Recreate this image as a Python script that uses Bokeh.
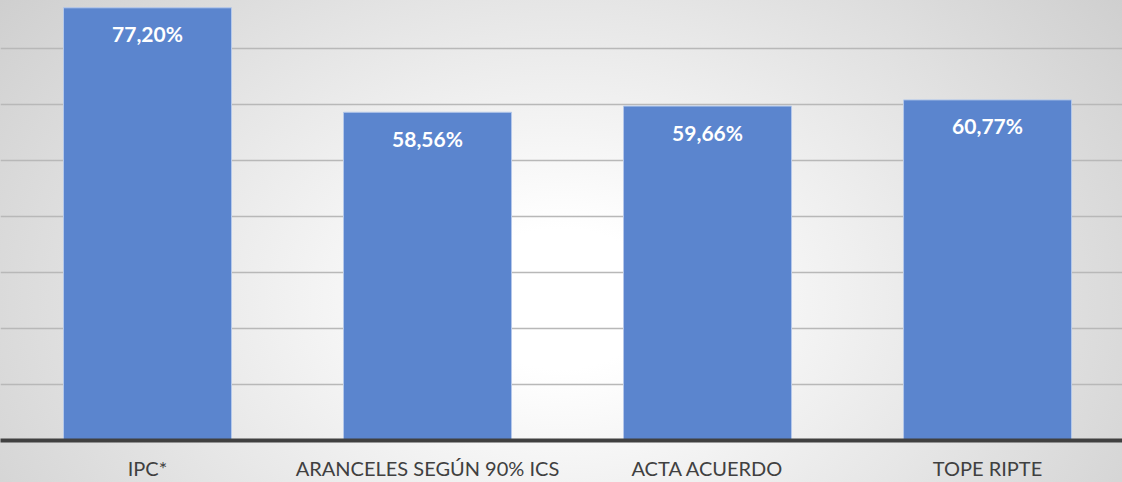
from bokeh.plotting import figure
from bokeh.models import Range1d, FixedTicker, ColumnDataSource
from bokeh.embed import file_html
from bokeh.resources import INLINE
from bokeh.core.properties import value

categories = ["IPC*", "ARANCELES SEGÚN 90% ICS", "ACTA ACUERDO", "TOPE RIPTE"]
values = [77.20, 58.56, 59.66, 60.77]
labels = ["77,20%", "58,56%", "59,66%", "60,77%"]
grid_ticks = [10, 20, 30, 40, 50, 60, 70]

xs = list(range(len(categories)))
src = ColumnDataSource(dict(x=xs, top=values, label=labels))

p = figure(width=1122, height=482, output_backend="svg", toolbar_location=None,
           x_range=Range1d(-0.525, 3.482), y_range=Range1d(0, 78.5),
           y_axis_location=None, min_border_left=0, min_border_right=0,
           min_border_top=0, min_border_bottom=0)
p.outline_line_color = None
p.background_fill_color = None
p.border_fill_color = None
p.styles = {"background": "radial-gradient(ellipse 700px 500px at 50% 62%, #ffffff 14%, #cfcfcf 100%)"}

p.vbar(x="x", top="top", width=0.6, bottom=0, source=src,
       fill_color="#5b85ce", line_color="#b4c8ea", line_width=1)

p.text(x="x", y="top", text="label", source=src, y_offset=26,
       text_align="center", text_baseline="alphabetic",
       text_color="white", text_font=value("Lato"), text_font_style="bold",
       text_font_size="21px")

p.xgrid.visible = False
p.ygrid.ticker = FixedTicker(ticks=grid_ticks)
p.ygrid.grid_line_color = "#b8b8b8"
p.ygrid.grid_line_width = 1.5

ax = p.xaxis[0]
ax.ticker = FixedTicker(ticks=xs)
ax.major_label_overrides = {i: c for i, c in zip(xs, categories)}
ax.major_tick_out = 0
ax.major_tick_in = 0
ax.minor_tick_out = 0
ax.minor_tick_in = 0
ax.axis_line_color = "#404040"
ax.axis_line_width = 4
ax.major_label_standoff = 15
ax.major_label_text_font = "Lato"
ax.major_label_text_font_size = "20px"
ax.major_label_text_color = "#404040"

open("out.html", "w").write(file_html(p, INLINE))
